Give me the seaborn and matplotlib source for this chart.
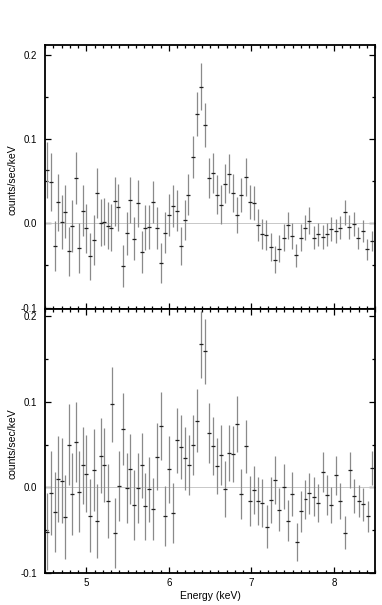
import numpy as np
import matplotlib.pyplot as plt
import seaborn as sns
from matplotlib.ticker import MultipleLocator, FormatStrFormatter

sns.set_style("ticks")
plt.rcParams['font.family'] = ['Liberation Sans', 'DejaVu Sans']
plt.rcParams['axes.unicode_minus'] = False
plt.rcParams['text.color'] = 'black'
plt.rcParams['axes.labelcolor'] = 'black'
plt.rcParams['xtick.color'] = 'black'
plt.rcParams['ytick.color'] = 'black'

# 上图数据 (能量, 计数率, 误差)
energy_top = [4.520, 4.573, 4.617, 4.662, 4.706, 4.746, 4.791, 4.831, 4.876, 4.916,
              4.961, 5.001, 5.045, 5.090, 5.130, 5.175, 5.219, 5.260, 5.300, 5.344,
              5.389, 5.445, 5.490, 5.534, 5.579, 5.623, 5.672, 5.716, 5.765, 5.813,
              5.862, 5.910, 5.959, 6.003, 6.047, 6.096, 6.144, 6.193, 6.237, 6.290,
              6.338, 6.387, 6.435, 6.484, 6.532, 6.581, 6.629, 6.678, 6.726, 6.775,
              6.823, 6.880, 6.932, 6.985, 7.033, 7.082, 7.130, 7.183, 7.235, 7.288,
              7.340, 7.393, 7.445, 7.494, 7.546, 7.599, 7.652, 7.704, 7.757, 7.813,
              7.866, 7.918, 7.971, 8.023, 8.076, 8.132, 8.189, 8.241, 8.298, 8.350,
              8.407, 8.460]
rate_top = [0.063, 0.049, -0.027, 0.025, 0.002, 0.014, -0.033, -0.003, 0.054, -0.029,
            0.015, -0.006, -0.039, -0.020, 0.036, 0.001, 0.002, -0.003, -0.005, 0.026,
            0.019, -0.051, -0.012, 0.028, -0.018, 0.024, -0.034, -0.005, -0.004, 0.025,
            -0.005, -0.047, -0.011, 0.010, 0.021, 0.015, -0.027, 0.004, 0.034, 0.079,
            0.130, 0.162, 0.117, 0.054, 0.060, 0.034, 0.022, 0.047, 0.059, 0.036,
            0.010, 0.034, 0.055, 0.025, 0.024, -0.002, -0.013, -0.014, -0.028, -0.043,
            -0.030, -0.017, -0.002, -0.015, -0.038, -0.017, -0.005, 0.003, -0.017, -0.013,
            -0.016, -0.013, -0.007, -0.009, -0.005, 0.013, -0.004, -0.001, -0.017, -0.009,
            -0.031, -0.021]
err_top = [0.033, 0.034, 0.030, 0.034, 0.032, 0.031, 0.029, 0.031, 0.031, 0.030,
           0.030, 0.029, 0.028, 0.030, 0.030, 0.028, 0.028, 0.028, 0.028, 0.029,
           0.028, 0.025, 0.026, 0.027, 0.026, 0.028, 0.025, 0.027, 0.026, 0.025,
           0.025, 0.024, 0.024, 0.025, 0.025, 0.024, 0.023, 0.024, 0.024, 0.025,
           0.026, 0.028, 0.026, 0.024, 0.024, 0.023, 0.023, 0.023, 0.023, 0.022,
           0.021, 0.020, 0.023, 0.020, 0.020, 0.019, 0.018, 0.018, 0.017, 0.016,
           0.016, 0.016, 0.016, 0.016, 0.014, 0.016, 0.015, 0.016, 0.014, 0.014,
           0.014, 0.014, 0.014, 0.014, 0.014, 0.015, 0.014, 0.014, 0.013, 0.013,
           0.013, 0.012]

# 下图数据
energy_bot = [4.528, 4.573, 4.617, 4.662, 4.706, 4.746, 4.791, 4.831, 4.876, 4.916,
              4.961, 5.001, 5.045, 5.090, 5.130, 5.175, 5.219, 5.260, 5.308, 5.352,
              5.396, 5.445, 5.490, 5.534, 5.579, 5.623, 5.672, 5.716, 5.765, 5.813,
              5.862, 5.910, 5.959, 6.003, 6.047, 6.096, 6.144, 6.193, 6.241, 6.290,
              6.338, 6.387, 6.435, 6.484, 6.532, 6.581, 6.629, 6.678, 6.726, 6.775,
              6.827, 6.880, 6.932, 6.985, 7.033, 7.082, 7.134, 7.187, 7.235, 7.288,
              7.340, 7.393, 7.445, 7.498, 7.551, 7.603, 7.656, 7.704, 7.761, 7.813,
              7.870, 7.918, 7.971, 8.023, 8.080, 8.136, 8.193, 8.245, 8.302, 8.355,
              8.411, 8.464]
rate_bot = [-0.052, -0.007, -0.029, 0.010, 0.008, -0.035, 0.050, -0.008, 0.053, -0.005,
            0.026, 0.016, -0.033, 0.020, -0.039, 0.037, 0.026, -0.016, 0.097, -0.053,
            0.002, 0.068, -0.001, 0.021, -0.021, -0.001, 0.026, -0.022, -0.002, -0.025,
            0.036, 0.072, -0.033, 0.021, -0.030, 0.055, 0.047, 0.034, 0.026, 0.049,
            0.078, 0.167, 0.159, 0.063, 0.048, 0.025, 0.038, -0.002, 0.040, 0.039,
            0.074, -0.008, 0.048, -0.016, -0.003, -0.016, -0.018, -0.046, -0.015, 0.009,
            -0.026, 0.001, -0.039, -0.008, -0.064, -0.028, -0.014, -0.007, -0.011, -0.018,
            0.018, -0.009, -0.021, 0.014, -0.016, -0.053, 0.020, -0.010, -0.016, -0.020,
            -0.034, 0.023]
err_bot = [0.045, 0.049, 0.047, 0.050, 0.050, 0.049, 0.047, 0.048, 0.047, 0.047,
           0.045, 0.045, 0.043, 0.048, 0.043, 0.044, 0.043, 0.043, 0.044, 0.041,
           0.041, 0.042, 0.041, 0.041, 0.041, 0.041, 0.038, 0.039, 0.038, 0.036,
           0.039, 0.040, 0.035, 0.039, 0.035, 0.038, 0.037, 0.037, 0.035, 0.035,
           0.037, 0.039, 0.038, 0.035, 0.034, 0.033, 0.035, 0.033, 0.033, 0.033,
           0.033, 0.029, 0.031, 0.029, 0.028, 0.028, 0.028, 0.025, 0.027, 0.028,
           0.025, 0.026, 0.024, 0.026, 0.022, 0.024, 0.023, 0.024, 0.023, 0.022,
           0.023, 0.023, 0.021, 0.023, 0.021, 0.019, 0.021, 0.020, 0.019, 0.019,
           0.018, 0.020]

bin_half = 0.024  # 每个能道的半宽 (keV)

fig, axes = plt.subplots(2, 1, figsize=(3.82, 6.05), dpi=100, sharex=True)
fig.subplots_adjust(left=0.118, right=0.982, top=0.926, bottom=0.053, hspace=0)

panels = [(energy_top, rate_top, err_top, (-0.1015, 0.212)),
          (energy_bot, rate_bot, err_bot, (-0.1, 0.2086))]

for ax, (e, r, err, ylim) in zip(axes, panels):
    ax.axhline(0, color='#c8c8c8', lw=0.7, zorder=1)
    # 竖直误差棒
    ax.errorbar(e, r, yerr=err, fmt='none', ecolor='#8a8a8a', elinewidth=0.9, capsize=0, zorder=2)
    # 水平能道宽度
    ax.errorbar(e, r, xerr=bin_half, fmt='none', ecolor='#202020', elinewidth=0.9, capsize=0, zorder=3)
    ax.set_xlim(4.5, 8.5)
    ax.set_ylim(*ylim)
    ax.xaxis.set_major_locator(MultipleLocator(1))
    ax.xaxis.set_minor_locator(MultipleLocator(0.1))
    ax.yaxis.set_major_locator(MultipleLocator(0.1))
    ax.yaxis.set_minor_locator(MultipleLocator(0.05))
    ax.yaxis.set_major_formatter(FormatStrFormatter('%.1f'))
    ax.tick_params(which='both', direction='in', top=True, right=True, labelsize=7,
                   width=0.9, color='black', labelcolor='black')
    ax.tick_params(which='major', length=4, pad=6)
    ax.tick_params(which='minor', length=2)
    ax.tick_params(axis='x', pad=4)
    for s in ax.spines.values():
        s.set_linewidth(1.3)
        s.set_color('black')
    ax.set_ylabel('counts/sec/keV', fontsize=7.5)
    ax.yaxis.set_label_coords(-0.085, 0.49)

axes[0].tick_params(axis='x', labelbottom=False)
axes[1].set_xlabel('Energy (keV)', fontsize=7.5, labelpad=2)

plt.savefig('out.png', dpi=100)
plt.close()
